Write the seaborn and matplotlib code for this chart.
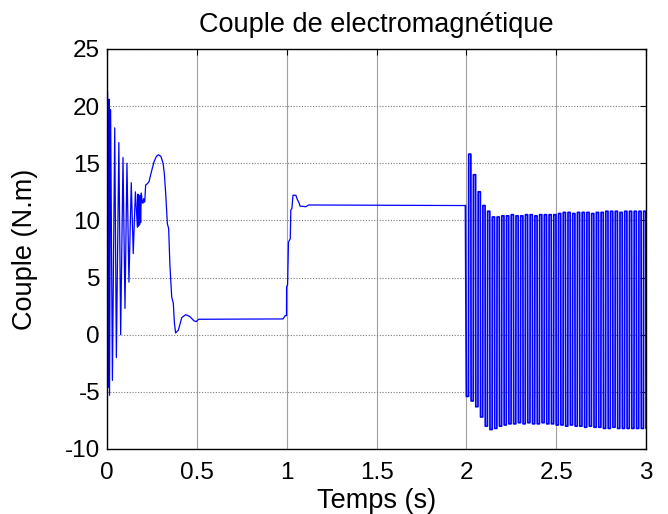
import numpy as np
import pandas as pd
import matplotlib
matplotlib.use("Agg")
import matplotlib.pyplot as plt
import seaborn as sns

# ---------------- data ----------------
# start-up transient (0 - 0.51 s)
t_start = [0.000, 0.003, 0.008, 0.011, 0.014, 0.020, 0.030, 0.043, 0.052, 0.066,
           0.076, 0.089, 0.100, 0.111, 0.122, 0.135, 0.146, 0.158, 0.169, 0.172,
           0.175, 0.178, 0.181, 0.184, 0.187, 0.191, 0.196, 0.200, 0.204, 0.210,
           0.215, 0.224, 0.234, 0.243, 0.252, 0.262, 0.275, 0.286, 0.300, 0.312,
           0.319, 0.326, 0.336, 0.343, 0.350, 0.360, 0.369, 0.375, 0.382, 0.397,
           0.405, 0.416, 0.438, 0.460, 0.485, 0.497, 0.510]
c_start = [0.0, 21.3, -4.6, 20.6, -5.3, 19.7, -4.0, 18.1, -2.0, 16.8,
           0.0, 15.5, 2.3, 15.0, 4.6, 13.3, 7.1, 12.5, 9.4, 12.3,
           9.5, 12.0, 9.6, 12.2, 9.8, 12.4, 11.6, 11.5, 11.9, 11.6,
           13.1, 13.2, 13.4, 14.0, 14.55, 15.15, 15.6, 15.75, 15.6, 15.0,
           14.1, 12.5, 9.7, 9.3, 6.1, 3.3, 2.75, 1.05, 0.15, 0.4,
           0.85, 1.5, 1.75, 1.6, 1.2, 1.15, 1.35]

# no-load plateau and load step at 1 s
t_step = [0.980, 0.992, 0.999, 0.9995, 1.005, 1.010, 1.020, 1.023, 1.029, 1.035,
          1.051, 1.060, 1.070, 1.074, 1.107, 1.122, 1.995]
c_step = [1.38, 1.67, 1.67, 4.2, 4.35, 8.1, 8.4, 10.9, 11.05, 12.2,
          12.2, 11.8, 11.5, 11.25, 11.2, 11.35, 11.3]

# oscillating torque after 2 s (alternating troughs / peaks, held between swings)
osc_low = [-5.4, -5.8, -6.3, -7.2, -8.0, -8.3, -8.2, -8.0, -7.9, -7.8,
           -7.8, -7.7, -7.8, -7.7, -7.8, -7.8, -7.7, -7.8, -7.8, -7.9,
           -7.9, -8.0, -7.9, -8.0, -8.0, -8.1, -8.0, -8.1, -8.1, -8.2,
           -8.2, -8.1, -8.2, -8.2, -8.2, -8.2, -8.2, -8.2, -8.2]
osc_high = [15.8, 14.0, 12.5, 11.3, 10.8, 10.3, 10.3, 10.4, 10.4, 10.5,
            10.4, 10.4, 10.5, 10.5, 10.4, 10.5, 10.5, 10.5, 10.5, 10.6,
            10.7, 10.7, 10.6, 10.7, 10.7, 10.7, 10.6, 10.7, 10.7, 10.8,
            10.8, 10.8, 10.7, 10.8, 10.8, 10.8, 10.8, 10.8]
osc_t0, osc_t1 = 2.0, 3.0

x_ticks = [0, 0.5, 1, 1.5, 2, 2.5, 3]
x_tick_labels = ["0", "0.5", "1", "1.5", "2", "2.5", "3"]
y_ticks = [-10, -5, 0, 5, 10, 15, 20, 25]
y_tick_labels = ["-10", "-5", "0", "5", "10", "15", "20", "25"]

title = "Couple de electromagnétique"
x_label = "Temps (s)"
y_label = "Couple (N.m)"

# ---------------- build the series ----------------
osc_vals = []
for i in range(len(osc_low)):
    osc_vals.append(osc_low[i])
    if i < len(osc_high):
        osc_vals.append(osc_high[i])
osc_time = np.linspace(osc_t0, osc_t1, len(osc_vals))
hold = 0.0012
osc_t, osc_c = [t_step[-1]], [c_step[-1]]
for i, v in enumerate(osc_vals):
    osc_t.append(osc_time[i])
    osc_c.append(v)
    if i < len(osc_vals) - 1:
        osc_t.append(osc_time[i + 1] - hold)
        osc_c.append(v)

df_main = pd.DataFrame({"Temps": t_start + t_step, "Couple": c_start + c_step})
df_osc = pd.DataFrame({"Temps": osc_t, "Couple": osc_c})

# ---------------- plot ----------------
sns.set_theme(style="white")
plt.rcParams["font.family"] = ["Liberation Sans", "DejaVu Sans"]

fig = plt.figure(figsize=(6.68, 5.14), dpi=100)
ax = fig.add_axes([0.1602, 0.1265, 0.8069, 0.7782])

# grid (MATLAB style)
for xv in x_ticks:
    ax.axvline(xv, color="#a0a0a0", lw=0.8, zorder=0)
for yv in y_ticks:
    ax.axhline(yv, color="#7a7a7a", lw=0.8, ls=(0, (1, 1.5)), zorder=0)

sns.lineplot(data=df_main, x="Temps", y="Couple", sort=False, estimator=None,
             color="#0000ff", lw=0.9, ax=ax, zorder=2)
sns.lineplot(data=df_osc, x="Temps", y="Couple", sort=False, estimator=None,
             color="#0000ff", lw=1.25, ax=ax, zorder=2)

ax.set_xlim(0, 3)
ax.set_ylim(-10, 25)
ax.set_xticks(x_ticks)
ax.set_xticklabels(x_tick_labels)
ax.set_yticks(y_ticks)
ax.set_yticklabels(y_tick_labels)
ax.tick_params(axis="both", direction="in", length=4, width=0.8,
               top=True, right=True, labelsize=17.5, colors="black")
ax.tick_params(axis="x", pad=9.6)
ax.tick_params(axis="y", pad=5)

for s in ax.spines.values():
    s.set_color("black")
    s.set_linewidth(1.0)
    s.set_visible(True)

ax.set_title(title, fontsize=19.5, pad=12.5, color="black")
ax.set_xlabel(x_label, fontsize=19.5, labelpad=2.5, color="black")
ax.set_ylabel(y_label, fontsize=19.5, labelpad=19.5, color="black")

fig.savefig("out.png", dpi=100)
